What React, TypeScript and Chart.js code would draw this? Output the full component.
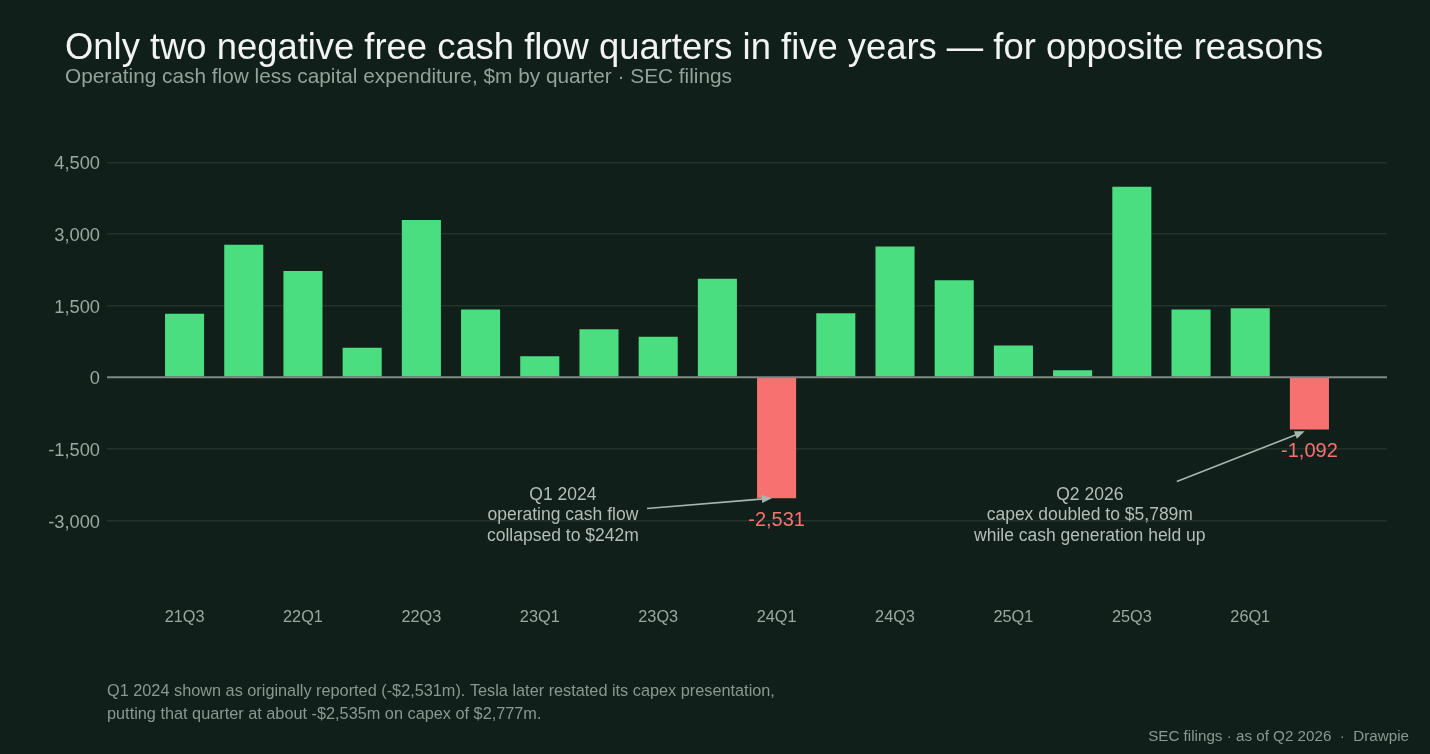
import React, { useEffect, useRef } from "react";
import { Chart, registerables } from "chart.js";

Chart.register(...registerables);

const quarters = [
  "21Q3", "21Q4", "22Q1", "22Q2", "22Q3", "22Q4", "23Q1", "23Q2", "23Q3", "23Q4",
  "24Q1", "24Q2", "24Q3", "24Q4", "25Q1", "25Q2", "25Q3", "25Q4", "26Q1", "26Q2",
];
const freeCashFlow = [
  1331, 2776, 2228, 621, 3297, 1420, 441, 1005, 848, 2064,
  -2531, 1342, 2742, 2034, 664, 146, 3990, 1420, 1444, -1092,
];
const yTickValues = [-3000, -1500, 0, 1500, 3000, 4500];
const xTickIndices = quarters.map((_, i) => i).filter((i) => i % 2 === 0 && i < quarters.length - 1);

const TITLE = "Only two negative free cash flow quarters in five years \u2014 for opposite reasons";
const SUBTITLE = "Operating cash flow less capital expenditure, $m by quarter \u00b7 SEC filings";
const FOOTNOTE = [
  "Q1 2024 shown as originally reported (-$2,531m). Tesla later restated its capex presentation,",
  "putting that quarter at about -$2,535m on capex of $2,777m.",
];
const SOURCE = "SEC filings \u00b7 as of Q2 2026  \u00b7  Drawpie";

const annotations = [
  {
    lines: ["Q1 2024", "operating cash flow", "collapsed to $242m"],
    textX: 6.39, textY: -2560,
    from: [7.81, -2748], to: [9.92, -2531],
  },
  {
    lines: ["Q2 2026", "capex doubled to $5,789m", "while cash generation held up"],
    textX: 15.29, textY: -2560,
    from: [16.76, -2183], to: [18.92, -1130],
  },
];

const FONT = '"Liberation Sans", Arial, Helvetica, sans-serif';
const BG = "#101f19";
const GREEN = "#4ade80";
const RED = "#f87171";
const TICK = "#9aa89f";

function drawArrow(ctx: CanvasRenderingContext2D, x1: number, y1: number, x2: number, y2: number) {
  const ang = Math.atan2(y2 - y1, x2 - x1);
  const len = 10, hw = 4;
  ctx.beginPath();
  ctx.moveTo(x1, y1);
  ctx.lineTo(x2 - Math.cos(ang) * len * 0.8, y2 - Math.sin(ang) * len * 0.8);
  ctx.stroke();
  ctx.beginPath();
  ctx.moveTo(x2, y2);
  ctx.lineTo(x2 - Math.cos(ang) * len - Math.sin(ang) * hw, y2 - Math.sin(ang) * len + Math.cos(ang) * hw);
  ctx.lineTo(x2 - Math.cos(ang) * len + Math.sin(ang) * hw, y2 - Math.sin(ang) * len - Math.cos(ang) * hw);
  ctx.closePath();
  ctx.fill();
}

const overlay = {
  id: "overlay",
  beforeDraw(chart: any) {
    const { ctx, width, height } = chart;
    ctx.save();
    ctx.fillStyle = BG;
    ctx.fillRect(0, 0, width, height);
    ctx.restore();
  },
  afterDatasetsDraw(chart: any) {
    const { ctx, chartArea } = chart;
    const x = chart.scales.x;
    const y = chart.scales.y;
    ctx.save();
    const y0 = y.getPixelForValue(0);
    ctx.strokeStyle = "#7f8b85";
    ctx.lineWidth = 2;
    ctx.beginPath();
    ctx.moveTo(chartArea.left, y0);
    ctx.lineTo(chartArea.right, y0);
    ctx.stroke();

    ctx.font = `20px ${FONT}`;
    ctx.fillStyle = RED;
    ctx.textAlign = "center";
    ctx.textBaseline = "alphabetic";
    freeCashFlow.forEach((v, i) => {
      if (v < 0) ctx.fillText(v.toLocaleString("en-US"), x.getPixelForValue(i), y.getPixelForValue(v) + 28);
    });

    ctx.strokeStyle = "#a9b6af";
    ctx.fillStyle = "#a9b6af";
    ctx.lineWidth = 1.6;
    annotations.forEach((a) => {
      drawArrow(ctx, x.getPixelForValue(a.from[0]), y.getPixelForValue(a.from[1]), x.getPixelForValue(a.to[0]), y.getPixelForValue(a.to[1]));
    });
    ctx.font = `17.5px ${FONT}`;
    ctx.fillStyle = "#b3beb8";
    annotations.forEach((a) => {
      const cx = x.getPixelForValue(a.textX);
      const by = y.getPixelForValue(a.textY);
      a.lines.forEach((l, k) => ctx.fillText(l, cx, by + k * 20.5));
    });
    ctx.restore();
  },
  afterDraw(chart: any) {
    const { ctx } = chart;
    ctx.save();
    ctx.textBaseline = "alphabetic";
    ctx.textAlign = "left";
    ctx.fillStyle = "#f1f4f2";
    ctx.font = `36.4px ${FONT}`;
    ctx.fillText(TITLE, 65, 59);
    ctx.fillStyle = "#93a29a";
    ctx.font = `20.8px ${FONT}`;
    ctx.fillText(SUBTITLE, 65, 83);
    ctx.fillStyle = "#8a9891";
    ctx.font = `16.3px ${FONT}`;
    FOOTNOTE.forEach((l, k) => ctx.fillText(l, 107, 696 + k * 22.5));
    ctx.textAlign = "right";
    ctx.font = `15.2px ${FONT}`;
    ctx.fillText(SOURCE, 1409, 741);
    ctx.restore();
  },
};

export default function App() {
  const ref = useRef<HTMLCanvasElement>(null);
  useEffect(() => {
    if (!ref.current) return;
    const chart = new Chart(ref.current, {
      type: "bar",
      data: {
        datasets: [
          {
            data: freeCashFlow.map((v, i) => ({ x: i, y: v })),
            backgroundColor: freeCashFlow.map((v) => (v < 0 ? RED : GREEN)),
            borderWidth: 0,
            barPercentage: 0.66,
            categoryPercentage: 1,
          },
        ],
      },
      options: {
        responsive: false,
        animation: false,
        layout: { padding: { left: 0, right: 43, top: 129, bottom: 117 } },
        plugins: { legend: { display: false }, tooltip: { enabled: false }, title: { display: false } },
        scales: {
          x: {
            type: "linear",
            min: -1.31,
            max: 20.31,
            offset: false,
            grid: { display: false },
            border: { display: false },
            afterBuildTicks: (s: any) => {
              s.ticks = xTickIndices.map((v) => ({ value: v }));
            },
            afterFit: (s: any) => {
              s.height = 40;
            },
            ticks: {
              autoSkip: false,
              maxRotation: 0,
              minRotation: 0,
              padding: 3,
              color: TICK,
              font: { family: FONT, size: 16.3 },
              callback: (v: any) => quarters[Math.round(Number(v))] ?? "",
            },
          },
          y: {
            min: -4600,
            max: 5200,
            afterBuildTicks: (s: any) => {
              s.ticks = yTickValues.map((v) => ({ value: v }));
            },
            afterFit: (s: any) => {
              s.width = 107;
            },
            grid: {
              color: (c: any) => (c.tick && c.tick.value === 0 ? "rgba(0,0,0,0)" : "#22332b"),
              lineWidth: 1.5,
              drawTicks: false,
            },
            border: { display: false },
            ticks: {
              padding: 7,
              labelOffset: 2,
              color: TICK,
              font: { family: FONT, size: 18.3 },
              callback: (v: any) => Number(v).toLocaleString("en-US"),
            },
          },
        },
      } as any,
      plugins: [overlay],
    });
    return () => chart.destroy();
  }, []);
  return (
    <div style={{ position: "absolute", left: 0, top: 0, width: 1430, height: 754, background: BG }}>
      <canvas ref={ref} width={1430} height={754} style={{ display: "block" }} />
    </div>
  );
}
